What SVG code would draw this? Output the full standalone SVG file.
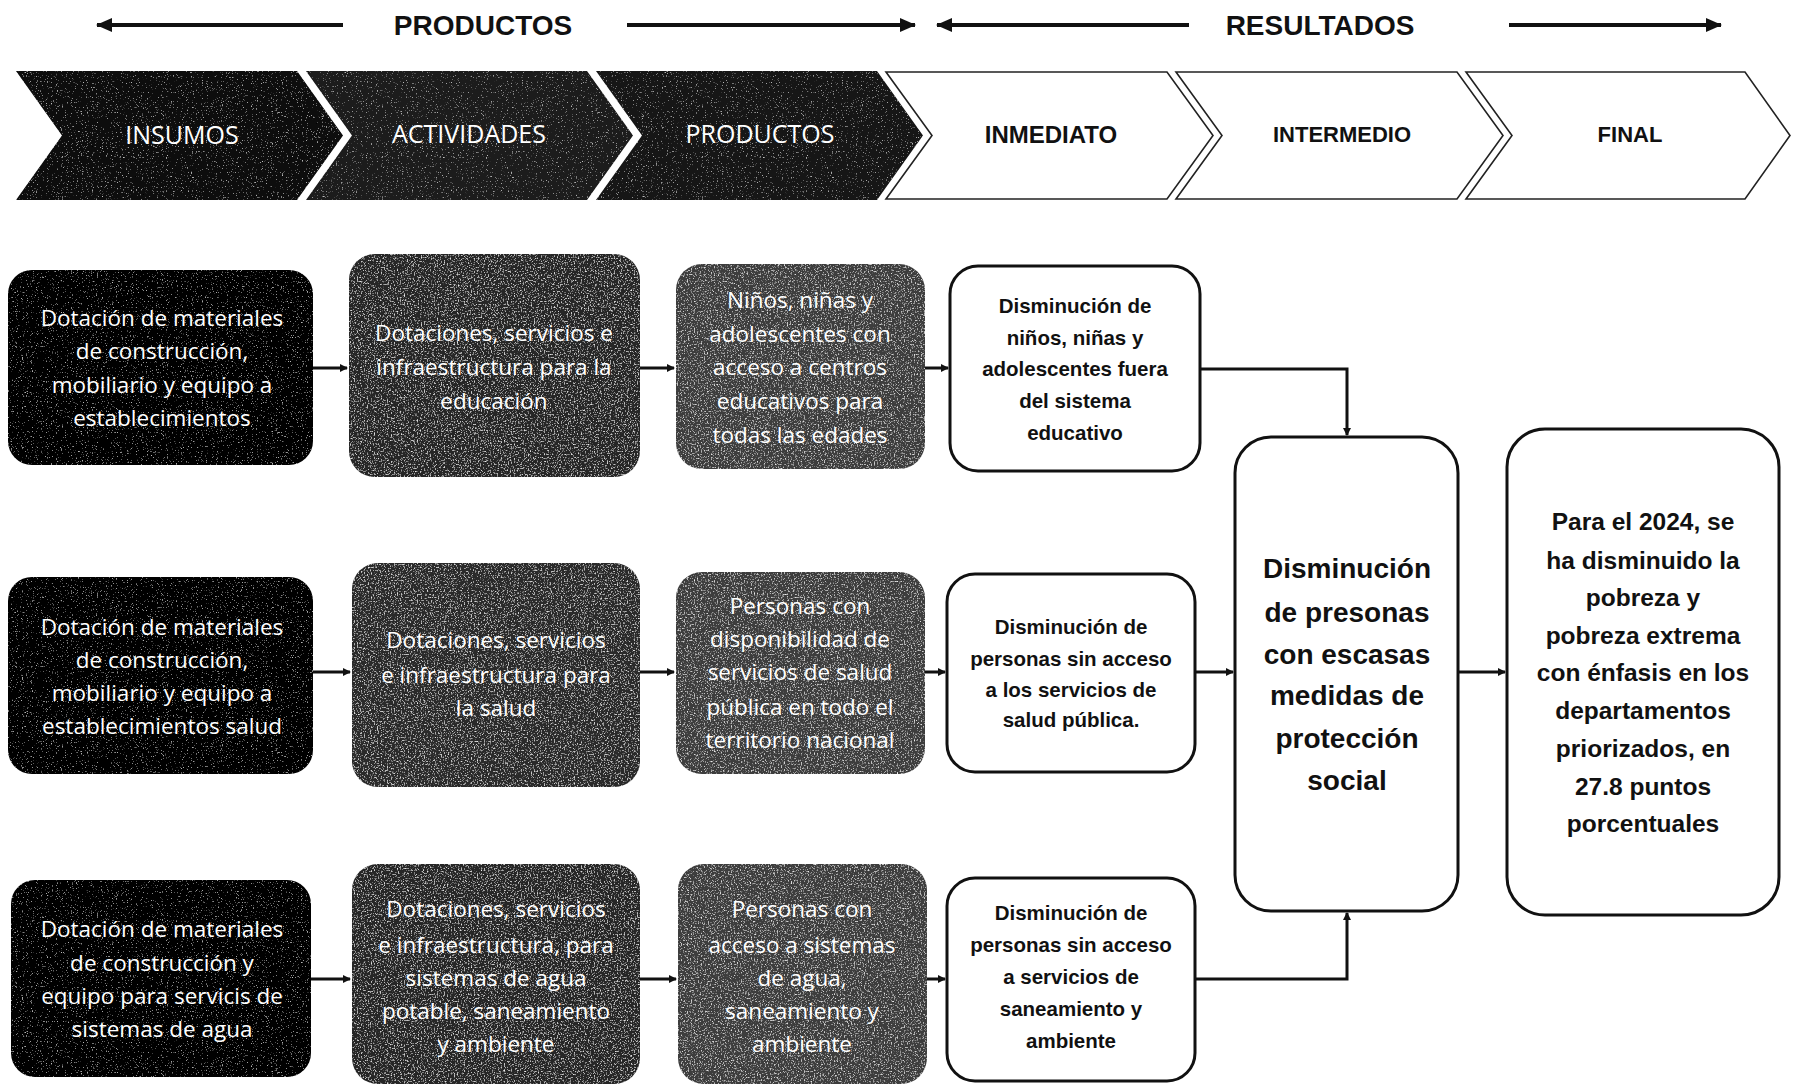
<svg xmlns="http://www.w3.org/2000/svg" width="1793" height="1086" viewBox="0 0 1793 1086">
<style>
.hdr{font-family:"Liberation Sans",Arial,sans-serif;font-weight:bold;font-size:28px;fill:#111;text-anchor:middle}
.chd{font-family:"Open Sans","Liberation Sans",sans-serif;font-size:25px;fill:#fff;text-anchor:middle}
.chl{font-family:"Liberation Sans",Arial,sans-serif;font-weight:bold;font-size:22px;fill:#111;text-anchor:middle}
.wt{font-family:"Open Sans","Liberation Sans",sans-serif;font-size:22.5px;fill:#fff;text-anchor:middle}
.bt{font-family:"Liberation Sans",Arial,sans-serif;font-weight:bold;font-size:20.5px;fill:#111;text-anchor:middle}
.big{font-family:"Liberation Sans",Arial,sans-serif;font-weight:bold;font-size:28px;fill:#111;text-anchor:middle}
.fin{font-family:"Liberation Sans",Arial,sans-serif;font-weight:bold;font-size:24.5px;fill:#111;text-anchor:middle}
.wbox{fill:#fff;stroke:#111;stroke-width:3}
.wchev{fill:#fff;stroke:#222;stroke-width:1.6}
.hl{stroke:#111;stroke-width:4;fill:none}
.con{stroke:#111;stroke-width:3;fill:none}
</style>
<defs>
<marker id="ah" markerWidth="8" markerHeight="8" refX="7" refY="4" orient="auto" markerUnits="userSpaceOnUse">
<path d="M0,0 L8,4 L0,8 Z" fill="#111"/>
</marker>
<marker id="hh" markerWidth="16" markerHeight="14" refX="15" refY="7" orient="auto" markerUnits="userSpaceOnUse">
<path d="M0,0 L16,7 L0,14 Z" fill="#111"/>
</marker>
<filter id="grain" x="0" y="0" width="100%" height="100%">
<feTurbulence type="fractalNoise" baseFrequency="0.7" numOctaves="2" seed="4" result="n"/>
<feColorMatrix in="n" type="matrix" values="0 0 0 0 0.85  0 0 0 0 0.85  0 0 0 0 0.85  3.2 0 0 0 -1.75" result="w"/>
<feComposite in="w" in2="SourceGraphic" operator="in" result="wm"/>
<feMerge><feMergeNode in="SourceGraphic"/><feMergeNode in="wm"/></feMerge>
</filter>
<filter id="grainS" x="0" y="0" width="100%" height="100%">
<feTurbulence type="fractalNoise" baseFrequency="0.8" numOctaves="2" seed="9" result="n"/>
<feColorMatrix in="n" type="matrix" values="0 0 0 0 0.8  0 0 0 0 0.8  0 0 0 0 0.8  3 0 0 0 -1.95" result="w"/>
<feComposite in="w" in2="SourceGraphic" operator="in" result="wm"/>
<feMerge><feMergeNode in="SourceGraphic"/><feMergeNode in="wm"/></feMerge>
</filter>
</defs>
<rect width="1793" height="1086" fill="#fff"/>

<g id="header">
<line class="hl" x1="343" y1="25" x2="97" y2="25" marker-end="url(#hh)"/>
<text class="hdr" x="483" y="35">PRODUCTOS</text>
<line class="hl" x1="627" y1="25" x2="915" y2="25" marker-end="url(#hh)"/>
<line class="hl" x1="1189" y1="25" x2="937" y2="25" marker-end="url(#hh)"/>
<text class="hdr" x="1320" y="35">RESULTADOS</text>
<line class="hl" x1="1509" y1="25" x2="1721" y2="25" marker-end="url(#hh)"/>
</g>

<g id="chev-insumos">
<path d="M16,71 L297,71 L343,135.5 L297,200 L16,200 L62,135.5 Z" fill="#080808" filter="url(#grainS)"/>
<text class="chd" x="182" y="144">INSUMOS</text>
</g>
<g id="chev-actividades">
<path d="M306,71 L587,71 L633,135.5 L587,200 L306,200 L352,135.5 Z" fill="#1a1a1a" filter="url(#grainS)"/>
<text class="chd" x="469" y="143">ACTIVIDADES</text>
</g>
<g id="chev-productos">
<path d="M596,71 L877,71 L923,135.5 L877,200 L596,200 L642,135.5 Z" fill="#151515" filter="url(#grainS)"/>
<text class="chd" x="760" y="143">PRODUCTOS</text>
</g>
<g id="chev-inmediato">
<path class="wchev" d="M886,72 L1167,72 L1213,135.5 L1167,199 L886,199 L932,135.5 Z"/>
<text class="chl" x="1051" y="143" style="font-size:24px">INMEDIATO</text>
</g>
<g id="chev-intermedio">
<path class="wchev" d="M1176,72 L1457,72 L1503,135.5 L1457,199 L1176,199 L1222,135.5 Z"/>
<text class="chl" x="1342" y="142">INTERMEDIO</text>
</g>
<g id="chev-final">
<path class="wchev" d="M1466,72 L1745,72 L1790,135.5 L1745,199 L1466,199 L1512,135.5 Z"/>
<text class="chl" x="1630" y="142">FINAL</text>
</g>

<g id="connectors">
<line class="con" x1="313" y1="368" x2="347" y2="368" marker-end="url(#ah)"/>
<line class="con" x1="640" y1="368" x2="674" y2="368" marker-end="url(#ah)"/>
<line class="con" x1="925" y1="368" x2="948" y2="368" marker-end="url(#ah)"/>
<line class="con" x1="313" y1="672" x2="350" y2="672" marker-end="url(#ah)"/>
<line class="con" x1="640" y1="672" x2="674" y2="672" marker-end="url(#ah)"/>
<line class="con" x1="925" y1="672" x2="945" y2="672" marker-end="url(#ah)"/>
<line class="con" x1="311" y1="979" x2="350" y2="979" marker-end="url(#ah)"/>
<line class="con" x1="640" y1="979" x2="676" y2="979" marker-end="url(#ah)"/>
<line class="con" x1="927" y1="979" x2="945" y2="979" marker-end="url(#ah)"/>
<polyline class="con" points="1200,369 1347,369 1347,435" marker-end="url(#ah)"/>
<line class="con" x1="1195" y1="672" x2="1233" y2="672" marker-end="url(#ah)"/>
<polyline class="con" points="1195,979 1347,979 1347,913" marker-end="url(#ah)"/>
<line class="con" x1="1458" y1="672" x2="1505" y2="672" marker-end="url(#ah)"/>
</g>

<g id="a1">
<rect x="8" y="270" width="305" height="195" rx="24" fill="#050505" filter="url(#grainS)"/>
<text class="wt" x="162"><tspan x="162" y="326">Dotación de materiales</tspan><tspan x="162" y="359">de construcción,</tspan><tspan x="162" y="393">mobiliario y equipo a</tspan><tspan x="162" y="426">establecimientos</tspan></text>
</g>
<g id="b1">
<rect x="349" y="254" width="291" height="223" rx="26" fill="#262626" filter="url(#grain)"/>
<text class="wt" x="494"><tspan x="494" y="341">Dotaciones, servicios e</tspan><tspan x="494" y="375">infraestructura para la</tspan><tspan x="494" y="409">educación</tspan></text>
</g>
<g id="c1">
<rect x="676" y="264" width="249" height="205" rx="26" fill="#3e3e3e" filter="url(#grain)"/>
<text class="wt" x="800"><tspan x="800" y="308">Niños, niñas y</tspan><tspan x="800" y="342">adolescentes con</tspan><tspan x="800" y="375">acceso a centros</tspan><tspan x="800" y="409">educativos para</tspan><tspan x="800" y="443">todas las edades</tspan></text>
</g>
<g id="d1">
<rect class="wbox" x="950" y="266" width="250" height="205" rx="28"/>
<text class="bt" x="1075"><tspan x="1075" y="313">Disminución de</tspan><tspan x="1075" y="345">niños, niñas y</tspan><tspan x="1075" y="376">adolescentes fuera</tspan><tspan x="1075" y="408">del sistema</tspan><tspan x="1075" y="440">educativo</tspan></text>
</g>

<g id="a2">
<rect x="8" y="577" width="305" height="197" rx="24" fill="#050505" filter="url(#grainS)"/>
<text class="wt" x="162"><tspan x="162" y="635">Dotación de materiales</tspan><tspan x="162" y="668">de construcción,</tspan><tspan x="162" y="701">mobiliario y equipo a</tspan><tspan x="162" y="734">establecimientos salud</tspan></text>
</g>
<g id="b2">
<rect x="352" y="563" width="288" height="224" rx="26" fill="#2a2a2a" filter="url(#grain)"/>
<text class="wt" x="496"><tspan x="496" y="648">Dotaciones, servicios</tspan><tspan x="496" y="683">e infraestructura para</tspan><tspan x="496" y="716">la salud</tspan></text>
</g>
<g id="c2">
<rect x="676" y="572" width="249" height="202" rx="26" fill="#3e3e3e" filter="url(#grain)"/>
<text class="wt" x="800"><tspan x="800" y="614">Personas con</tspan><tspan x="800" y="647">disponibilidad de</tspan><tspan x="800" y="680">servicios de salud</tspan><tspan x="800" y="715">pública en todo el</tspan><tspan x="800" y="748">territorio nacional</tspan></text>
</g>
<g id="d2">
<rect class="wbox" x="947" y="574" width="248" height="198" rx="28"/>
<text class="bt" x="1071"><tspan x="1071" y="634">Disminución de</tspan><tspan x="1071" y="666">personas sin acceso</tspan><tspan x="1071" y="697">a los servicios de</tspan><tspan x="1071" y="727">salud pública.</tspan></text>
</g>

<g id="a3">
<rect x="11" y="880" width="300" height="197" rx="24" fill="#050505" filter="url(#grainS)"/>
<text class="wt" x="162"><tspan x="162" y="937">Dotación de materiales</tspan><tspan x="162" y="971">de construcción y</tspan><tspan x="162" y="1004">equipo para servicis de</tspan><tspan x="162" y="1037">sistemas de agua</tspan></text>
</g>
<g id="b3">
<rect x="352" y="864" width="288" height="220" rx="26" fill="#262626" filter="url(#grain)"/>
<text class="wt" x="496"><tspan x="496" y="917">Dotaciones, servicios</tspan><tspan x="496" y="953">e infraestructura, para</tspan><tspan x="496" y="986">sistemas de agua</tspan><tspan x="496" y="1019">potable, saneamiento</tspan><tspan x="496" y="1052">y ambiente</tspan></text>
</g>
<g id="c3">
<rect x="678" y="864" width="249" height="220" rx="26" fill="#3e3e3e" filter="url(#grain)"/>
<text class="wt" x="802"><tspan x="802" y="917">Personas con</tspan><tspan x="802" y="953">acceso a sistemas</tspan><tspan x="802" y="986">de agua,</tspan><tspan x="802" y="1019">saneamiento y</tspan><tspan x="802" y="1052">ambiente</tspan></text>
</g>
<g id="d3">
<rect class="wbox" x="947" y="878" width="248" height="203" rx="28"/>
<text class="bt" x="1071"><tspan x="1071" y="920">Disminución de</tspan><tspan x="1071" y="952">personas sin acceso</tspan><tspan x="1071" y="984">a servicios de</tspan><tspan x="1071" y="1016">saneamiento y</tspan><tspan x="1071" y="1048">ambiente</tspan></text>
</g>

<g id="e">
<rect class="wbox" x="1235" y="437" width="223" height="474" rx="36"/>
<text class="big" x="1347"><tspan x="1347" y="578">Disminución</tspan><tspan x="1347" y="622">de presonas</tspan><tspan x="1347" y="664">con escasas</tspan><tspan x="1347" y="705">medidas de</tspan><tspan x="1347" y="748">protección</tspan><tspan x="1347" y="790">social</tspan></text>
</g>
<g id="f">
<rect class="wbox" x="1507" y="429" width="272" height="486" rx="38"/>
<text class="fin" x="1643"><tspan x="1643" y="530">Para el 2024, se</tspan><tspan x="1643" y="569">ha disminuido la</tspan><tspan x="1643" y="606">pobreza y</tspan><tspan x="1643" y="644">pobreza extrema</tspan><tspan x="1643" y="681">con énfasis en los</tspan><tspan x="1643" y="719">departamentos</tspan><tspan x="1643" y="757">priorizados, en</tspan><tspan x="1643" y="795">27.8 puntos</tspan><tspan x="1643" y="832">porcentuales</tspan></text>
</g>
</svg>
